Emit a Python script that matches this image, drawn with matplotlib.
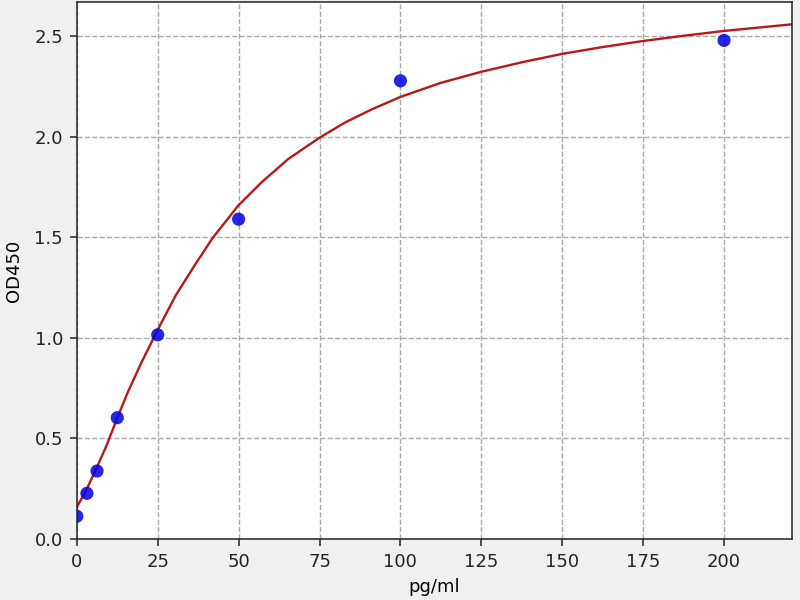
import matplotlib
matplotlib.use('Agg')
import matplotlib.pyplot as plt

# standard points
conc = [0, 3.125, 6.25, 12.5, 25, 50, 100, 200]
od450 = [0.113, 0.227, 0.338, 0.603, 1.015, 1.59, 2.278, 2.479]

# fitted curve
curve_x = [0, 3.1, 5.9, 9.2, 12.6, 15.8, 19.9, 25, 30.7, 36.8, 41.9, 50,
           57.2, 65.4, 75, 82.8, 91, 100, 112.5, 125, 138, 150, 162.5, 175,
           187, 200, 221]
curve_y = [0.158, 0.249, 0.345, 0.465, 0.606, 0.731, 0.875, 1.04, 1.215,
           1.37, 1.495, 1.66, 1.775, 1.89, 1.995, 2.07, 2.135, 2.198, 2.268,
           2.323, 2.372, 2.412, 2.446, 2.476, 2.501, 2.526, 2.559]

x_ticks = [0, 25, 50, 75, 100, 125, 150, 175, 200]
y_ticks = [0.0, 0.5, 1.0, 1.5, 2.0, 2.5]

fig = plt.figure(figsize=(8, 6), dpi=100, facecolor='#f0f0f0')
ax = fig.add_axes([0.096, 0.1017, 0.894, 0.895])
ax.set_facecolor('white')

ax.plot(curve_x, curve_y, color='#b81818', lw=1.7, zorder=2)
ax.scatter(conc, od450, s=90, color='#0000e0', alpha=0.85, zorder=3,
           edgecolors='none')

ax.set_xlim(0, 221)
ax.set_ylim(0, 2.67)
ax.set_xticks(x_ticks)
ax.set_yticks(y_ticks)
ax.set_yticklabels(['%.1f' % v for v in y_ticks])
ax.grid(True, color='#a8a8a8', linestyle='--', lw=1.0)
ax.set_axisbelow(True)
ax.tick_params(labelsize=13, colors='#222222', length=5, width=1.1, pad=5)
for s in ax.spines.values():
    s.set_color('#222222')
    s.set_linewidth(1.1)

ax.set_xlabel('pg/ml', fontsize=13, labelpad=5)
ax.set_ylabel('OD450', fontsize=13, labelpad=8)

fig.savefig('out.png', dpi=100, facecolor=fig.get_facecolor())
